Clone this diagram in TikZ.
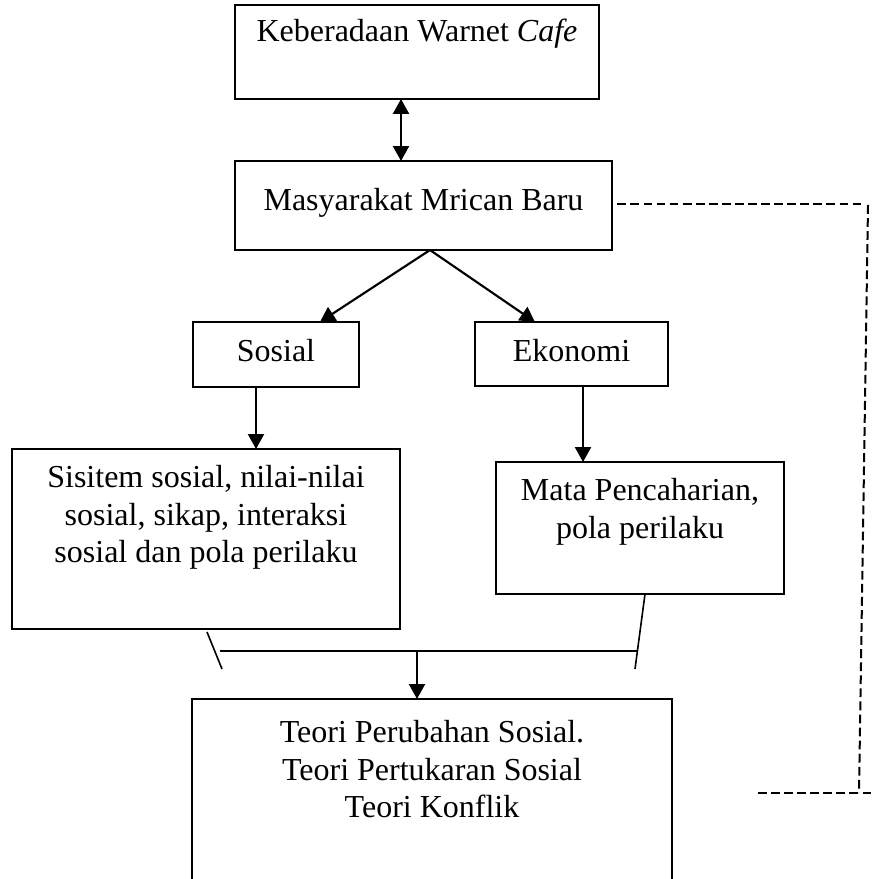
\documentclass[tikz,border=0pt]{standalone}
\usepackage{fontspec}
\setmainfont{Liberation Serif}
\usetikzlibrary{arrows.meta}

\tikzset{
  kotak/.style={draw, line width=0.8pt, inner sep=0pt, outer sep=0pt},
  teks/.style={anchor=north, align=center, inner sep=0pt, font=\fontsize{12}{14}\selectfont},
  panah/.style={-{Triangle[length=5.6pt,width=6pt]}, line width=0.8pt},
  duapanah/.style={{Triangle[length=5.6pt,width=6pt]}-{Triangle[length=5.6pt,width=6pt]}, line width=0.8pt},
  garis/.style={line width=0.6pt},
  putus/.style={line width=0.75pt, dash pattern=on 3.3pt off 1.6pt}
}

\begin{document}
\begin{tikzpicture}[x=0.375pt, y=-0.375pt]
  \useasboundingbox (0,0) rectangle (873,879);
  % kotak-kotak
  \node[kotak, minimum width=136.5pt, minimum height=35.25pt] (atas) at (417,52) {};
  \node[kotak, minimum width=141.4pt, minimum height=33.4pt] (masy) at (423.5,205.5) {};
  \node[kotak, minimum width=62.25pt, minimum height=24.4pt] (sosial) at (276,354.5) {};
  \node[kotak, minimum width=72.4pt, minimum height=24pt] (ekonomi) at (571.5,354) {};
  \node[kotak, minimum width=145.5pt, minimum height=67.5pt] (kiri) at (206,539) {};
  \node[kotak, minimum width=108pt, minimum height=49.5pt] (kanan) at (640,528) {};
  \node[kotak, minimum width=180pt, minimum height=75.4pt] (bawah) at (432,799.5) {};
  % isi
  \node[teks] (tatas) at (417,18) {Keberadaan Warnet \textit{Cafe}};
  \node[teks] (tmasy) at (423.5,188) {Masyarakat Mrican Baru};
  \node[teks] (tsosial) at (276,339) {Sosial};
  \node[teks] (tekonomi) at (571.5,339) {Ekonomi};
  \node[teks] (tkiri) at (206,465) {Sisitem sosial, nilai-nilai\\sosial, sikap, interaksi\\sosial dan pola perilaku};
  \node[teks] (tkanan) at (640,478) {Mata Pencaharian,\\pola perilaku};
  \node[teks] (tbawah) at (432,720) {Teori Perubahan Sosial.\\Teori Pertukaran Sosial\\Teori Konflik};
  % titik bantu
  \coordinate (g1a) at (207,632);
  \coordinate (g1b) at (222,669);
  \coordinate (g2b) at (635,669);
  \coordinate (hki) at (220,651);
  \coordinate (hka) at (637,651);
  \coordinate (hte) at (417,651);
  \coordinate (d1) at (863,204);
  \coordinate (d2) at (868,205);
  \coordinate (d3) at (859,793);
  \coordinate (d4) at (758,793);
  \coordinate (d5) at (873,793);
  % panah
  \draw[duapanah] (atas.south -| 401,0) -- (masy.north -| 401,0);
  \draw[panah] (masy.south -| 430,0) -- (sosial.north -| 320,0);
  \draw[panah] (masy.south -| 430,0) -- (ekonomi.north -| 535,0);
  \draw[panah] (sosial.south -| 256,0) -- (kiri.north -| 256,0);
  \draw[panah] (ekonomi.south -| 583,0) -- (kanan.north -| 583,0);
  \draw[garis] (g1a) -- (g1b);
  \draw[garis] (kanan.south -| 645,0) -- (g2b);
  \draw[garis] (hki) -- (hka);
  \draw[panah] (hte) -- (bawah.north -| hte);
  % garis putus-putus
  \draw[putus] ([xshift=2pt]masy.east |- d1) -- (d1);
  \draw[putus] (d2) -- (d3);
  \draw[putus] (d4) -- (d5);
\end{tikzpicture}
\end{document}
